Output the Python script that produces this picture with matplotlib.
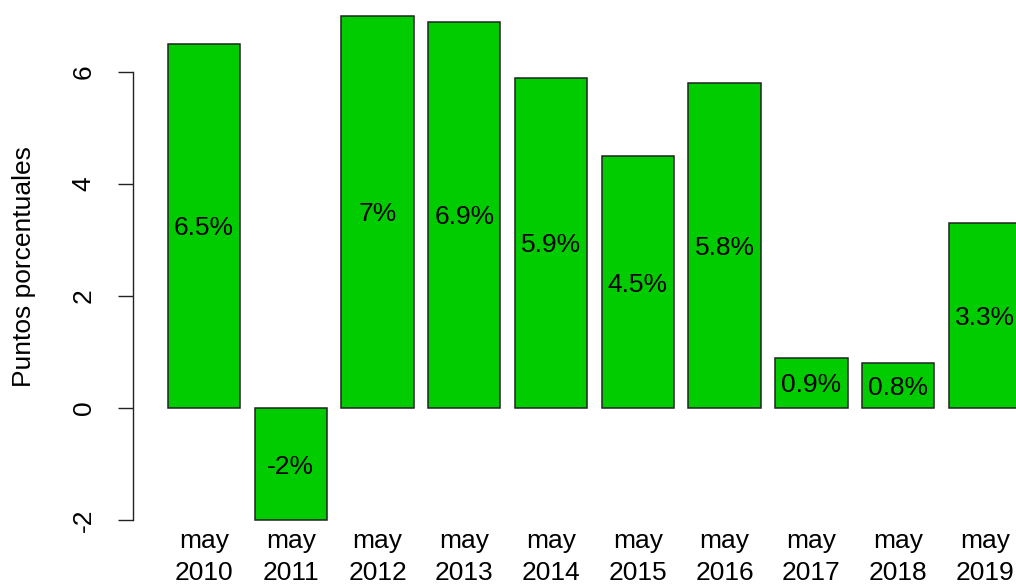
import numpy as np
import matplotlib
matplotlib.use('Agg')
from matplotlib import pyplot as plt

plt.rcParams['font.family'] = ['Liberation Sans', 'DejaVu Sans']

# datos
meses = ['may', 'may', 'may', 'may', 'may', 'may', 'may', 'may', 'may', 'may']
anios = ['2010', '2011', '2012', '2013', '2014', '2015', '2016', '2017', '2018', '2019']
valores = [6.5, -2, 7, 6.9, 5.9, 4.5, 5.8, 0.9, 0.8, 3.3]
etiquetas = ['6.5%', '-2%', '7%', '6.9%', '5.9%', '4.5%', '5.8%', '0.9%', '0.8%', '3.3%']
yticks = [-2, 0, 2, 4, 6]

fig = plt.figure(figsize=(10.16, 5.85), dpi=100)
ax = fig.add_axes([133 / 1016, (585 - 521.7) / 585, 883 / 1016, (521.7 - 0.3) / 585])

# posiciones estilo barplot de R (ancho 1, espacio 0.2)
x = 0.7 + 1.2 * np.arange(len(valores))
ax.bar(x, valores, width=1.0, color='#00CC00', edgecolor='#222222', linewidth=1.1)

for xi, v, lab in zip(x, valores, etiquetas):
    ax.text(xi, v / 2, lab, ha='center', va='center_baseline', fontsize=19, color='black')

ax.set_xlim(-0.282, 11.93)
ax.set_ylim(-2.03, 7.28)

ax.set_xticks(x)
ax.set_xticklabels([m + '\n' + a for m, a in zip(meses, anios)], fontsize=19, linespacing=1.45)
ax.tick_params(axis='x', length=0, pad=5)

ax.set_yticks(yticks)
ax.set_yticklabels([str(t) for t in yticks], rotation=90, va='center', fontsize=19)
ax.tick_params(axis='y', length=11, width=1.0, color='#222222', pad=16)

for s in ['top', 'right', 'bottom']:
    ax.spines[s].set_visible(False)
ax.spines['left'].set_bounds(-2, 6)
ax.spines['left'].set_color('#222222')
ax.spines['left'].set_linewidth(1.0)

ax.set_ylabel('Puntos porcentuales', fontsize=19)
ax.yaxis.set_label_coords(-0.1095, 0.489)

plt.savefig('out.png', dpi=100)
